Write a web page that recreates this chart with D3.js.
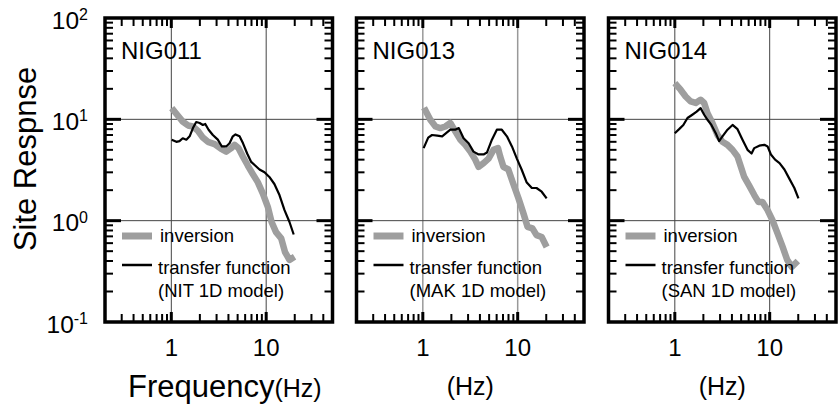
<!DOCTYPE html>
<html>
<head>
<meta charset="utf-8">
<script src="https://cdn.jsdelivr.net/npm/d3@7"></script>
<style>
  body { margin: 0; background: #fff; color: #000; }
  text { font-family: "Liberation Sans", Arial, sans-serif; fill: #000; }
</style>
</head>
<body>
<div id="chart"></div>
<script>
// Stations and model names
const stations = ["NIG011", "NIG013", "NIG014"];
const models = ["(NIT 1D model)", "(MAK 1D model)", "(SAN 1D model)"];

// Inversion site response
const invFreq011 = [1.01, 1.17, 1.32, 1.5, 1.69, 1.91, 2.15, 2.43, 2.86, 3.36, 3.79, 4.28, 4.64, 5.1, 5.67, 6.4, 7.2, 8.15, 9.2, 10.4, 11.4, 12.7, 14.4, 15.8, 17.6, 19.9];
const invAmp011 = [12.9, 10.9, 9.5, 8.7, 8.5, 7.7, 6.6, 6.0, 5.7, 5.1, 4.8, 5.2, 5.6, 5.2, 4.3, 3.5, 2.9, 2.4, 1.86, 1.37, 0.97, 0.77, 0.67, 0.49, 0.41, 0.44];
const invFreq013 = [1.03, 1.2, 1.36, 1.53, 1.73, 1.95, 2.2, 2.49, 2.8, 3.17, 3.57, 3.87, 4.37, 4.93, 5.56, 6.2, 6.54, 7.07, 7.97, 9.0, 10.2, 11.5, 12.7, 14.3, 15.8, 17.9, 20.2];
const invAmp013 = [13, 9.9, 8.5, 8.2, 8.5, 9.2, 7.6, 6.3, 5.6, 4.8, 4.0, 3.4, 3.7, 4.1, 5.0, 5.2, 4.3, 3.4, 3.2, 2.3, 1.66, 1.18, 0.87, 0.84, 0.72, 0.69, 0.55];
const invFreq014 = [1.0, 1.15, 1.3, 1.47, 1.66, 1.87, 2.04, 2.21, 2.49, 2.82, 3.18, 3.59, 4.06, 4.58, 4.97, 5.39, 6.1, 6.88, 7.6, 8.4, 9.5, 10.7, 12.1, 13.7, 15.3, 17.1, 19.8];
const invAmp014 = [22.8, 19.6, 16.8, 15.0, 14.5, 15.6, 14.5, 11.5, 9.2, 7.0, 6.0, 5.6, 5.0, 4.3, 3.4, 2.7, 2.2, 1.79, 1.53, 1.53, 1.27, 1.01, 0.75, 0.55, 0.41, 0.35, 0.40];

// Transfer function of 1D models
const tfFreq011 = [1.01, 1.13, 1.22, 1.32, 1.44, 1.56, 1.69, 1.83, 1.99, 2.15, 2.28, 2.47, 2.74, 3.09, 3.41, 3.79, 4.11, 4.45, 4.75, 5.24, 5.7, 6.3, 6.95, 7.65, 8.5, 9.6, 10.8, 12.2, 13.8, 15.6, 17.6, 19.5];
const tfAmp011 = [6.3, 6.0, 6.1, 6.5, 6.3, 6.8, 8.2, 9.4, 9.2, 8.8, 9.0, 7.9, 7.0, 6.3, 5.4, 5.4, 5.8, 6.8, 7.1, 6.8, 5.8, 4.6, 3.8, 3.5, 3.2, 3.0, 2.7, 2.3, 1.79, 1.27, 0.97, 0.73];
const tfFreq013 = [1.02, 1.14, 1.25, 1.42, 1.6, 1.76, 1.95, 2.2, 2.39, 2.69, 3.04, 3.42, 3.87, 4.37, 4.74, 5.35, 6.03, 6.8, 7.7, 8.7, 9.8, 11.0, 12.4, 14.1, 15.8, 17.9, 20.2];
const tfAmp013 = [5.2, 6.6, 7.0, 6.9, 6.8, 7.3, 7.9, 7.9, 8.2, 6.5, 5.8, 4.8, 4.5, 4.5, 4.7, 6.3, 7.9, 7.9, 6.8, 5.4, 4.1, 3.2, 2.4, 2.1, 2.1, 1.93, 1.66];
const tfFreq014 = [1.0, 1.11, 1.23, 1.36, 1.53, 1.7, 1.87, 2.04, 2.21, 2.43, 2.7, 2.93, 3.18, 3.59, 4.06, 4.58, 5.17, 5.84, 6.44, 6.88, 7.77, 8.8, 9.5, 10.3, 11.4, 12.7, 14.3, 16.1, 18.2, 20.1];
const tfAmp014 = [7.3, 8.0, 8.8, 10.3, 11.1, 11.9, 12.9, 11.1, 9.9, 8.8, 7.3, 6.1, 6.8, 7.9, 8.8, 8.0, 6.3, 5.0, 4.6, 5.2, 5.5, 5.6, 5.4, 4.5, 4.0, 3.7, 3.2, 2.6, 2.1, 1.66];

// Axis ticks
const xTickLabels = [1, 10];
const xMinorTicks = [0.3, 0.4, 0.5, 0.6, 0.7, 0.8, 0.9, 2, 3, 4, 5, 6, 7, 8, 9, 20, 30, 40];
const yMajorTicks = [1, 10];
const yMinorTicks = [0.2, 0.3, 0.4, 0.5, 0.6, 0.7, 0.8, 0.9, 2, 3, 4, 5, 6, 7, 8, 9, 20, 30, 40, 50, 60, 70, 80, 90];
const yTickExponents = [2, 1, 0, -1];

const inversion = [[invFreq011, invAmp011], [invFreq013, invAmp013], [invFreq014, invAmp014]];
const transfer = [[tfFreq011, tfAmp011], [tfFreq013, tfAmp013], [tfFreq014, tfAmp014]];

const width = 838, height = 409;
const panelLeft = [105, 356.5, 608.5];
const panelW = 227.5;
const plotTop = 18, plotBottom = 322;

const svg = d3.select("#chart").append("svg")
    .attr("width", width)
    .attr("height", height);

const y = d3.scaleLog().domain([0.1, 100]).range([plotBottom, plotTop]);

// inward tick marks on all four sides
function drawTicks(g, x, xs, ys, lx, ly, w) {
    g.selectAll(null).data(xs).enter().append("line")
        .attr("x1", d => x(d)).attr("x2", d => x(d))
        .attr("y1", plotBottom).attr("y2", plotBottom - lx)
        .attr("stroke", "#000").attr("stroke-width", w);
    g.selectAll(null).data(xs).enter().append("line")
        .attr("x1", d => x(d)).attr("x2", d => x(d))
        .attr("y1", plotTop).attr("y2", plotTop + lx)
        .attr("stroke", "#000").attr("stroke-width", w);
    g.selectAll(null).data(ys).enter().append("line")
        .attr("x1", 0).attr("x2", ly)
        .attr("y1", d => y(d)).attr("y2", d => y(d))
        .attr("stroke", "#000").attr("stroke-width", w);
    g.selectAll(null).data(ys).enter().append("line")
        .attr("x1", panelW).attr("x2", panelW - ly)
        .attr("y1", d => y(d)).attr("y2", d => y(d))
        .attr("stroke", "#000").attr("stroke-width", w);
}

stations.forEach((name, i) => {
    const x = d3.scaleLog().domain([0.2, 50]).range([0, panelW]);
    const g = svg.append("g").attr("transform", `translate(${panelLeft[i]},0)`);

    // grid lines at decades
    const vGrid = i === 1 ? "#999" : "#444";
    g.selectAll(null).data(xTickLabels).enter().append("line")
        .attr("x1", d => x(d)).attr("x2", d => x(d))
        .attr("y1", plotTop).attr("y2", plotBottom)
        .attr("stroke", vGrid).attr("stroke-width", i === 1 ? 1.5 : 1);
    g.selectAll(null).data(yMajorTicks).enter().append("line")
        .attr("x1", 0).attr("x2", panelW)
        .attr("y1", d => y(d)).attr("y2", d => y(d))
        .attr("stroke", "#444").attr("stroke-width", 1);

    // ticks
    drawTicks(g, x, xMinorTicks, yMinorTicks, 8, 8, 2);
    drawTicks(g, x, xTickLabels, yMajorTicks, 10, 16, 3);

    // curves
    const line = d3.line().x(d => x(d[0])).y(d => y(d[1]));
    const invPts = d3.zip(inversion[i][0], inversion[i][1]);
    const tfPts = d3.zip(transfer[i][0], transfer[i][1]);

    g.append("path").datum(invPts).attr("d", line)
        .attr("fill", "none").attr("stroke", "#9e9e9e").attr("stroke-width", 6.5)
        .attr("stroke-linejoin", "round");
    g.append("path").datum(tfPts).attr("d", line)
        .attr("fill", "none").attr("stroke", "#000").attr("stroke-width", 2.2)
        .attr("stroke-linejoin", "round");

    // frame
    g.append("rect").attr("x", 0).attr("y", plotTop)
        .attr("width", panelW).attr("height", plotBottom - plotTop)
        .attr("fill", "none").attr("stroke", "#000").attr("stroke-width", 3.5);

    // station name
    g.append("text").attr("x", 16).attr("y", 59)
        .style("font-size", "24px").text(name);

    // legend
    g.append("line").attr("x1", 17).attr("x2", 47).attr("y1", 236).attr("y2", 236)
        .attr("stroke", "#9e9e9e").attr("stroke-width", 7);
    g.append("text").attr("x", 55).attr("y", 241.5)
        .style("font-size", "18.5px").text("inversion");
    g.append("line").attr("x1", 17).attr("x2", 47).attr("y1", 265).attr("y2", 265)
        .attr("stroke", "#000").attr("stroke-width", 2.5);
    g.append("text").attr("x", 53).attr("y", 274)
        .style("font-size", "18.5px").text("transfer function");
    g.append("text").attr("x", 53).attr("y", 296.5)
        .style("font-size", "18.5px").text(models[i]);

    // x tick labels
    g.selectAll(null).data(xTickLabels).enter().append("text")
        .attr("x", d => x(d)).attr("y", 356)
        .attr("text-anchor", "middle")
        .style("font-size", "24px")
        .text(d => d);

    // x axis title
    if (i === 0) {
        const t = g.append("text").attr("x", 23).attr("y", 396.5);
        t.append("tspan").style("font-size", "31px").text("Frequency");
        t.append("tspan").style("font-size", "25px").text("(Hz)");
    } else {
        g.append("text").attr("x", panelW / 2).attr("y", 395)
            .attr("text-anchor", "middle")
            .style("font-size", "25px").text("(Hz)");
    }
});

// y tick labels with superscript exponents
yTickExponents.forEach(e => {
    const t = svg.append("text")
        .attr("x", 88).attr("y", y(Math.pow(10, e)) + 10.5)
        .attr("text-anchor", "end");
    t.append("tspan").style("font-size", "24.5px").text("10");
    t.append("tspan").style("font-size", "16px").attr("dy", -8.5).text(e);
});

// y axis title
svg.append("text")
    .attr("transform", "translate(36,159) rotate(-90)")
    .attr("text-anchor", "middle")
    .style("font-size", "31px")
    .text("Site Respnse");
</script>
</body>
</html>
